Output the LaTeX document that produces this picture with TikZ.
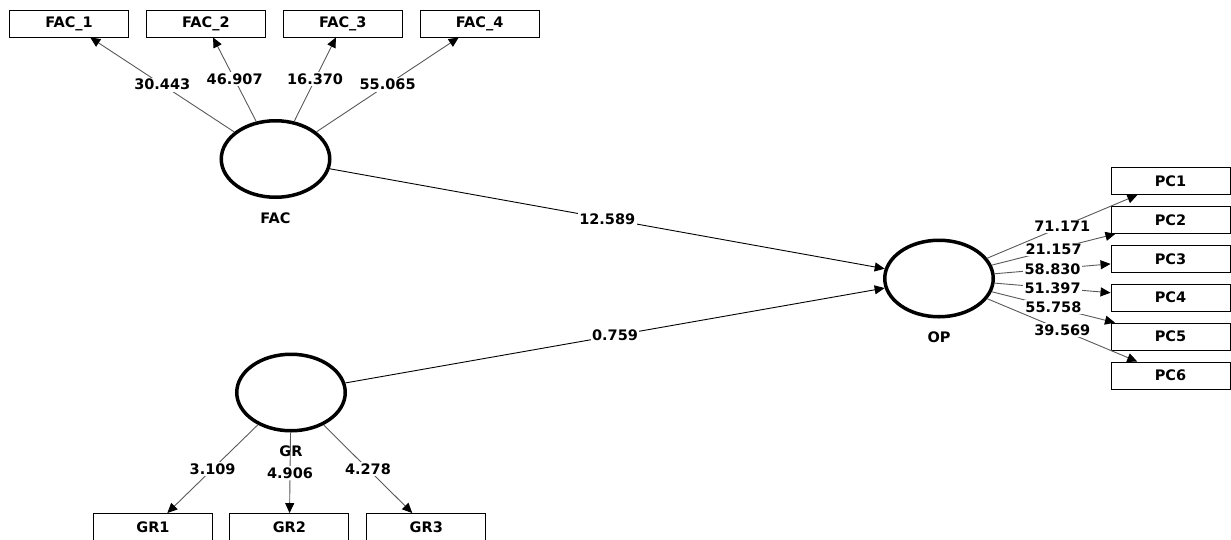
\documentclass[tikz,border=0pt]{standalone}
\usepackage{fontspec}
\setmainfont{DejaVu Sans}
\usetikzlibrary{positioning, arrows.meta, shapes.geometric}

\begin{document}
\begin{tikzpicture}[x=1pt, y=-1pt]
	% Define styles
	\tikzset{
		latent/.style={ellipse, draw, line width=3.5pt, minimum width=108.5pt, minimum height=76.5pt, inner sep=0pt},
		indicator/.style={rectangle, draw, line width=0.9pt, minimum width=119pt, minimum height=27pt, inner sep=0pt, font=\fontsize{14.5}{17}\selectfont\bfseries},
		lbl/.style={label distance=13.5pt, inner sep=0pt, font=\fontsize{14.5}{17}\selectfont\bfseries},
		line/.style={draw, line width=0.9pt, -{Triangle[length=10pt, width=9pt, color=black]}},
		loading/.style={line, black!65},
		coef/.style={fill=white, inner sep=1.5pt, text=black, font=\fontsize{14.5}{17}\selectfont\bfseries}
	}
	\useasboundingbox (0,0) rectangle (1231,539);
	
	% Constructs
	\node[latent, label={[lbl]below:FAC}] (fac) at (275.5,159) {};
	\node[latent, label={[lbl]below:OP}] (op) at (939,278.5) {};
	\node[latent, label={[lbl]below:GR}] (gr) at (291,392.5) {};
	
	% Indicators
	\node[indicator] (fac1) at (69,23.5) {FAC\_1};
	\node[indicator, right=17pt of fac1] (fac2) {FAC\_2};
	\node[indicator, right=17pt of fac2] (fac3) {FAC\_3};
	\node[indicator, right=17pt of fac3] (fac4) {FAC\_4};
	
	\node[indicator] (pc1) at (1170.5,181) {PC1};
	\node[indicator, below=11pt of pc1] (pc2) {PC2};
	\node[indicator, below=11pt of pc2] (pc3) {PC3};
	\node[indicator, below=11pt of pc3] (pc4) {PC4};
	\node[indicator, below=11pt of pc4] (pc5) {PC5};
	\node[indicator, below=11pt of pc5] (pc6) {PC6};
	
	\node[indicator] (gr1) at (153,527) {GR1};
	\node[indicator, right=16.5pt of gr1] (gr2) {GR2};
	\node[indicator, right=17pt of gr2] (gr3) {GR3};
	
	% Arrows
	\draw[loading] (fac) -- node[coef] {30.443} (fac1);
	\draw[loading] (fac) -- node[coef] {46.907} (fac2);
	\draw[loading] (fac) -- node[coef] {16.370} (fac3);
	\draw[loading] (fac) -- node[coef] {55.065} (fac4);
	
	\draw[line] (fac) -- node[coef] {12.589} (op);
	\draw[line] (gr) -- node[coef] {0.759} (op);
	
	\draw[loading] (op) -- node[coef] {71.171} (pc1);
	\draw[loading] (op) -- node[coef] {21.157} (pc2);
	\draw[loading] (op) -- node[coef] {58.830} (pc3);
	\draw[loading] (op) -- node[coef] {51.397} (pc4);
	\draw[loading] (op) -- node[coef] {55.758} (pc5);
	\draw[loading] (op) -- node[coef] {39.569} (pc6);
	
	\draw[loading] (gr) -- node[coef] {3.109} (gr1);
	\draw[loading] (gr) -- node[coef] {4.906} (gr2);
	\draw[loading] (gr) -- node[coef] {4.278} (gr3);
	
\end{tikzpicture}
\end{document}
